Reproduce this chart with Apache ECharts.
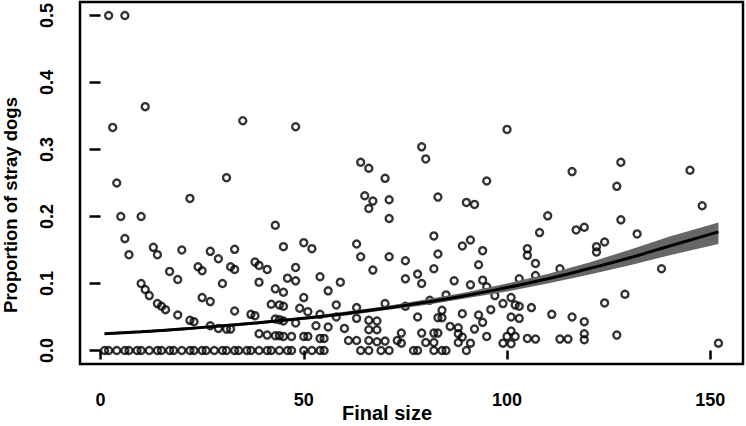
<!DOCTYPE html>
<html>
<head>
<meta charset="utf-8">
<script src="https://cdn.jsdelivr.net/npm/echarts@6/dist/echarts.min.js"></script>
<style>
html,body{margin:0;padding:0;background:#fff;}
#chart{width:746px;height:426px;}
</style>
</head>
<body>
<div id="chart"></div>
<script>
// ---- Data ----
const finalSize = [
  // zeros
  1,2,4,6,7,9,10,12,14,15,17,18,20,22,23,25,26,28,30,31,33,34,36,37,
  39,41,42,44,46,47,50,52,54,55,64,66,69,71,77,78,82,84,85,90,
  // high
  2,6,11,3,35,4,31,48,64,66,79,80,70,95,100,116,128,145,127,
  // upper-mid
  22,5,10,6,7,43,45,13,14,20,27,29,33,
  65,67,66,71,71,83,90,92,
  50,52,63,64,71,75,82,83,82,89,91,94,93,67,48,
  148,110,108,117,119,128,132,124,122,122,105,105,107,113,138,
  // middle
  17,19,24,25,32,33,30,38,39,41,39,46,10,
  48,54,59,75,78,79,87,91,94,107,103,
  // lower-mid
  43,45,11,12,14,15,16,19,25,27,33,37,38,42,44,45,
  56,50,95,97,99,85,81,70,63,58,49,51,54,58,75,84,78,89,93,96,
  129,124,101,102,103,106,111,116,101,103,
  // low
  22,23,27,29,31,32,39,41,43,44,45,
  43,44,45,48,63,66,68,66,68,53,56,60,
  83,84,94,92,95,
  47,50,51,54,55,61,63,66,68,70,73,
  74,74,79,82,83,80,82,86,88,88,89,88,91,
  99,101,100,102,101,105,107,113,115,119,119,119,127,152
];
const propStray = [
  0,0,0,0,0,0,0,0,0,0,0,0,0,0,0,0,0,0,0,0,0,0,0,0,
  0,0,0,0,0,0,0,0,0,0,0,0,0,0,0,0,0,0,0,0,
  0.5,0.5,0.364,0.333,0.343,0.25,0.258,0.334,0.281,0.272,0.304,0.286,0.257,0.253,0.330,0.267,0.281,0.269,0.245,
  0.227,0.2,0.2,0.167,0.143,0.187,0.155,0.154,0.143,0.15,0.148,0.137,0.151,
  0.231,0.223,0.212,0.225,0.197,0.229,0.221,0.218,
  0.161,0.152,0.159,0.140,0.140,0.134,0.171,0.144,0.122,0.156,0.165,0.149,0.128,0.120,0.124,
  0.216,0.201,0.176,0.180,0.184,0.195,0.174,0.162,0.155,0.147,0.152,0.142,0.130,0.122,0.122,
  0.118,0.106,0.125,0.119,0.125,0.121,0.1,0.132,0.127,0.121,0.102,0.108,0.1,
  0.104,0.110,0.102,0.107,0.114,0.1,0.104,0.098,0.105,0.112,0.107,
  0.092,0.087,0.091,0.082,0.070,0.066,0.061,0.053,0.079,0.073,0.059,0.054,0.052,0.069,0.068,0.066,
  0.089,0.079,0.095,0.082,0.070,0.083,0.075,0.070,0.064,0.068,0.063,0.058,0.054,0.050,0.066,0.060,0.050,0.055,0.053,0.061,
  0.084,0.071,0.079,0.068,0.066,0.064,0.054,0.050,0.050,0.048,
  0.045,0.043,0.037,0.033,0.032,0.032,0.025,0.023,0.022,0.022,0.021,
  0.047,0.046,0.044,0.041,0.048,0.045,0.044,0.031,0.031,0.037,0.035,0.033,
  0.049,0.049,0.042,0.032,0.021,
  0.021,0.021,0.021,0.018,0.018,0.015,0.015,0.015,0.013,0.014,0.015,
  0.026,0.011,0.026,0.026,0.026,0.012,0.012,0.036,0.034,0.025,0.020,0.012,0.011,
  0.011,0.010,0.021,0.021,0.029,0.018,0.017,0.017,0.017,0.043,0.025,0.016,0.023,0.011
];
// fitted curve and its confidence band
const fitX    = [1, 10, 20, 30, 40, 50, 60, 70, 80, 90, 100, 110, 120, 130, 140, 152];
const fitY    = [0.025,0.028,0.032,0.037,0.042,0.048,0.055,0.063,0.072,0.082,0.094,0.107,0.122,0.138,0.156,0.177];
const fitLow  = [0.023,0.026,0.030,0.035,0.040,0.046,0.052,0.060,0.068,0.078,0.088,0.100,0.113,0.127,0.142,0.159];
const fitHigh = [0.027,0.030,0.034,0.039,0.044,0.050,0.058,0.066,0.076,0.087,0.100,0.114,0.131,0.150,0.170,0.191];
// ticks
const xTicks = [0, 50, 100, 150];
const yTicks = [0, 0.1, 0.2, 0.3, 0.4, 0.5];
const xTitle = 'Final size';
const yTitle = 'Proportion of stray dogs';

const chart = echarts.init(document.getElementById('chart'), null, {renderer: 'svg'});
const pts = finalSize.map((x, i) => [x, propStray[i]]);
const fitLine = fitX.map((x, i) => [x, fitY[i]]);
const bandData = fitX.map((x, i) => [x, fitLow[i], fitHigh[i]]);
const FONT = 'Liberation Sans, Arial, sans-serif';

chart.setOption({
  animation: false,
  backgroundColor: '#fff',
  grid: {left: 80, right: 3, top: 1.6, bottom: 62.1, show: true,
         borderColor: '#000', borderWidth: 2.5, backgroundColor: 'transparent'},
  xAxis: {
    type: 'value', min: -5.04, max: 158.04,
    splitLine: {show: false},
    axisLine: {show: false},
    axisTick: {show: true, inside: false, length: 9, customValues: xTicks,
               lineStyle: {color: '#000', width: 2.5}},
    axisLabel: {customValues: xTicks, margin: 27, color: '#000',
                fontFamily: FONT, fontWeight: 'bold', fontSize: 18}
  },
  yAxis: {
    type: 'value', min: -0.02, max: 0.52,
    splitLine: {show: false},
    axisLine: {show: false},
    axisTick: {show: true, inside: false, length: 11, customValues: yTicks,
               lineStyle: {color: '#000', width: 2.5}},
    axisLabel: {customValues: yTicks, rotate: 90, margin: 24, color: '#000',
                fontFamily: FONT, fontWeight: 'bold', fontSize: 18,
                formatter: v => v.toFixed(1)}
  },
  graphic: [
    {type: 'text', x: 387, y: 413, z: 100,
     style: {text: xTitle, fontFamily: FONT, fontWeight: 'bold', fontSize: 20,
             fill: '#000', textAlign: 'center', textVerticalAlign: 'middle'}},
    {type: 'text', x: 10, y: 205, rotation: Math.PI / 2, z: 100,
     style: {text: yTitle, fontFamily: FONT, fontWeight: 'bold', fontSize: 18.5,
             fill: '#000', textAlign: 'center', textVerticalAlign: 'middle'}}
  ],
  series: [
    {
      type: 'scatter', data: pts, symbol: 'circle', symbolSize: 7, z: 2,
      itemStyle: {color: 'rgba(255,255,255,0)', borderColor: '#000', borderWidth: 2.4}
    },
    {
      type: 'custom', data: bandData, z: 3,
      encode: {x: 0, y: [1, 2]},
      renderItem: function (params, api) {
        if (params.dataIndex !== 0) return;
        const poly = [];
        for (let i = 0; i < fitX.length; i++) poly.push(api.coord([fitX[i], fitHigh[i]]));
        for (let i = fitX.length - 1; i >= 0; i--) poly.push(api.coord([fitX[i], fitLow[i]]));
        return {type: 'polygon', shape: {points: poly}, style: {fill: '#666666'}};
      }
    },
    {
      type: 'line', data: fitLine, smooth: true, showSymbol: false, z: 4,
      lineStyle: {color: '#000', width: 3}
    }
  ]
});
</script>
</body>
</html>
